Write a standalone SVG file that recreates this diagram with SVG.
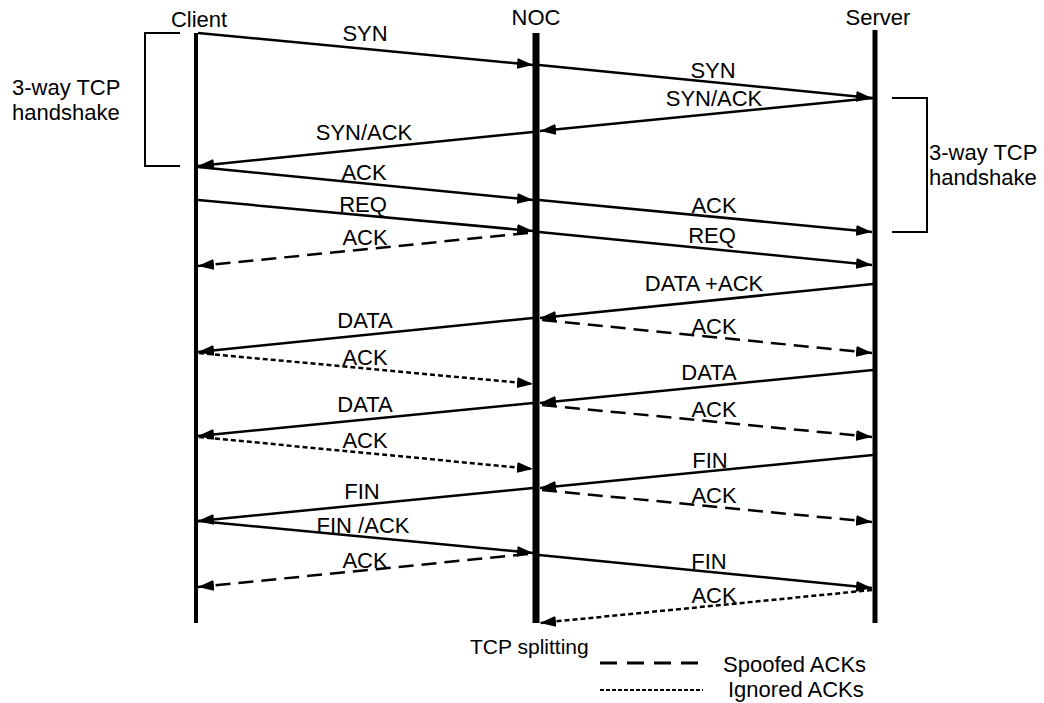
<svg xmlns="http://www.w3.org/2000/svg" width="1044" height="703" viewBox="0 0 1044 703">
<style>
text{font-family:"Liberation Sans",Arial,Helvetica,sans-serif;font-size:22px;fill:#000}
.lbl{text-anchor:middle}
.life{stroke:#000;fill:none}
.msg{stroke:#000;stroke-width:2.5;fill:none;marker-end:url(#ah)}
.sp{stroke-dasharray:15 8}
.ig{stroke-dasharray:5 3}
.br{stroke:#000;stroke-width:2;fill:none}
</style>
<defs>
<marker id="ah" markerUnits="userSpaceOnUse" markerWidth="18" markerHeight="12" refX="16" refY="6" orient="auto">
<path d="M0,0.5 L16,6 L0,11.5 Z" fill="#000"/>
</marker>
</defs>
<rect width="1044" height="703" fill="#fff"/>
<g id="client">
<line class="life" x1="196" y1="33" x2="196" y2="623" stroke-width="4"/>
<text x="199" y="27" text-anchor="middle">Client</text>
<path class="br" d="M180,33 H145 V166 H180"/>
<text x="12" y="95">3-way TCP</text>
<text x="12" y="120">handshake</text>
</g>
<g id="noc">
<line class="life" x1="536" y1="33" x2="536" y2="623" stroke-width="7"/>
<text x="536" y="25" text-anchor="middle">NOC</text>
</g>
<g id="server">
<line class="life" x1="875" y1="30" x2="875" y2="623" stroke-width="5"/>
<text x="878" y="25" text-anchor="middle">Server</text>
<path class="br" d="M892,98 H927 V232 H892"/>
<text x="929" y="160">3-way TCP</text>
<text x="929" y="185">handshake</text>
</g>
<g id="connectors">
<line class="msg" x1="198" y1="33" x2="533" y2="65"/>
<line class="msg" x1="539" y1="65" x2="872" y2="98"/>
<line class="msg" x1="873" y1="98" x2="540" y2="131"/>
<line class="msg" x1="533" y1="132" x2="198" y2="166"/>
<line class="msg" x1="198" y1="167" x2="533" y2="200"/>
<line class="msg" x1="539" y1="200" x2="872" y2="232"/>
<line class="msg" x1="198" y1="200" x2="533" y2="231"/>
<line class="msg" x1="539" y1="232" x2="872" y2="265"/>
<line class="msg sp" x1="528" y1="233" x2="198" y2="266"/>
<line class="msg" x1="873" y1="284" x2="540" y2="318"/>
<line class="msg" x1="533" y1="318" x2="198" y2="352"/>
<line class="msg sp" x1="542" y1="320" x2="872" y2="353"/>
<line class="msg ig" x1="199" y1="353" x2="533" y2="384"/>
<line class="msg" x1="873" y1="370" x2="540" y2="403"/>
<line class="msg" x1="533" y1="403" x2="198" y2="436"/>
<line class="msg sp" x1="542" y1="405" x2="872" y2="437"/>
<line class="msg ig" x1="199" y1="437" x2="533" y2="469"/>
<line class="msg" x1="873" y1="455" x2="540" y2="488"/>
<line class="msg" x1="533" y1="488" x2="198" y2="521"/>
<line class="msg sp" x1="542" y1="490" x2="872" y2="522"/>
<line class="msg" x1="198" y1="521" x2="533" y2="553"/>
<line class="msg sp" x1="528" y1="554" x2="198" y2="587"/>
<line class="msg" x1="539" y1="555" x2="872" y2="588"/>
<line class="msg ig" x1="872" y1="590" x2="540" y2="623"/>
</g>
<g id="labels">
<text class="lbl" x="365" y="41">SYN</text>
<text class="lbl" x="713" y="78">SYN</text>
<text class="lbl" x="714" y="106">SYN/ACK</text>
<text class="lbl" x="364" y="140">SYN/ACK</text>
<text class="lbl" x="364" y="180">ACK</text>
<text class="lbl" x="363" y="212">REQ</text>
<text class="lbl" x="714" y="213">ACK</text>
<text class="lbl" x="712" y="243">REQ</text>
<text class="lbl" x="365" y="245">ACK</text>
<text class="lbl" x="704" y="291">DATA +ACK</text>
<text class="lbl" x="365" y="328">DATA</text>
<text class="lbl" x="714" y="334">ACK</text>
<text class="lbl" x="365" y="365">ACK</text>
<text class="lbl" x="709" y="380">DATA</text>
<text class="lbl" x="365" y="412">DATA</text>
<text class="lbl" x="714" y="417">ACK</text>
<text class="lbl" x="365" y="448">ACK</text>
<text class="lbl" x="710" y="468">FIN</text>
<text class="lbl" x="362" y="499">FIN</text>
<text class="lbl" x="714" y="503">ACK</text>
<text class="lbl" x="363" y="533">FIN /ACK</text>
<text class="lbl" x="365" y="568">ACK</text>
<text class="lbl" x="709" y="569">FIN</text>
<text class="lbl" x="714" y="603">ACK</text>
</g>
<g id="legend">
<text x="470" y="654" style="font-size:21px">TCP splitting</text>
<line x1="600" y1="663" x2="703" y2="663" stroke="#000" stroke-width="3" stroke-dasharray="17 10"/>
<text x="723" y="672">Spoofed ACKs</text>
<line x1="600" y1="690" x2="703" y2="690" stroke="#000" stroke-width="2" stroke-dasharray="4 2"/>
<text x="728" y="697">Ignored ACKs</text>
</g>
</svg>
